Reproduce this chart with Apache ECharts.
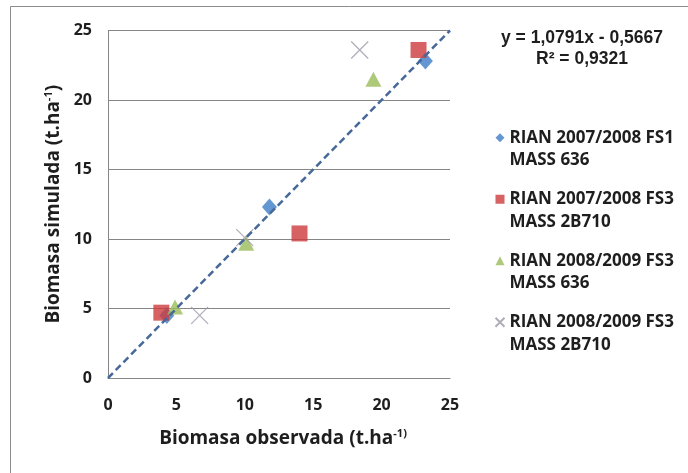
<!DOCTYPE html>
<html>
<head>
<meta charset="utf-8">
<script src="https://cdn.jsdelivr.net/npm/echarts@6/dist/echarts.min.js"></script>
<style>
html,body{margin:0;padding:0;background:#fff;}
#chart{width:688px;height:473px;}
</style>
</head>
<body>
<div id="chart"></div>
<script>
// ---- Data ----
const seriesNames = [
  'RIAN 2007/2008 FS1\nMASS 636',
  'RIAN 2007/2008 FS3\nMASS 2B710',
  'RIAN 2008/2009 FS3\nMASS 636',
  'RIAN 2008/2009 FS3\nMASS 2B710'
];
// [observed, simulated]
const fs1_2007_636   = [[4.3, 4.5], [11.8, 12.3], [23.2, 22.8]];
const fs3_2007_2B710 = [[3.9, 4.7], [14.0, 10.4], [22.7, 23.6]];
const fs3_2008_636   = [[4.9, 5.1], [10.1, 9.7], [19.4, 21.5]];
const fs3_2008_2B710 = [[6.7, 4.5], [10.0, 10.1], [18.4, 23.6]];
const oneToOneLine   = [[0, 0], [25, 25]];
const axisTicks = [0, 5, 10, 15, 20, 25];
const equationLines = ['y = 1,0791x - 0,5667', 'R² = 0,9321'];

const chart = echarts.init(document.getElementById('chart'), null, {renderer: 'canvas'});
const FONT = '"Open Sans"';
const TXT = '#1e1e1e';
const xPath = 'path://M0,0L10,10M10,0L0,10';

const option = {
  backgroundColor: '#ffffff',
  animation: false,
  graphic: [
    {type: 'rect', shape: {x: 10.5, y: 6.5, width: 720, height: 520}, style: {fill: 'none', stroke: '#8c8c8c', lineWidth: 1}, silent: true, z: -1},
    {type: 'text', x: 582, y: 28, style: {text: equationLines.join('\n'), font: 'bold 17.5px "Liberation Sans"', fill: TXT, align: 'center', verticalAlign: 'top', lineHeight: 21}}
  ],
  grid: {left: 108, right: 238, top: 30.5, bottom: 95, containLabel: false},
  xAxis: {
    type: 'value', min: axisTicks[0], max: axisTicks[axisTicks.length - 1], interval: 5,
    axisLine: {show: true, lineStyle: {color: '#868686', width: 1}},
    axisTick: {show: false},
    splitLine: {show: false},
    axisLabel: {margin: 19, color: TXT, fontFamily: FONT, fontWeight: 'bold', fontSize: 16},
    name: '{n|Biomasa observada (t.ha}{s|-1)}',
    nameLocation: 'middle', nameGap: 50,
    nameTextStyle: {
      padding: [0, 0, 0, 8],
      rich: {
        n: {fontFamily: FONT, fontWeight: 'bold', fontSize: 19, color: TXT, lineHeight: 22},
        s: {fontFamily: FONT, fontWeight: 'bold', fontSize: 11, color: TXT, verticalAlign: 'top', lineHeight: 22}
      }
    }
  },
  yAxis: {
    type: 'value', min: axisTicks[0], max: axisTicks[axisTicks.length - 1], interval: 5,
    axisLine: {show: true, lineStyle: {color: '#868686', width: 1}},
    axisTick: {show: false},
    splitLine: {show: true, lineStyle: {color: '#868686', width: 1}},
    axisLabel: {margin: 16, color: TXT, fontFamily: FONT, fontWeight: 'bold', fontSize: 16},
    name: '{n|Biomasa simulada (t.ha}{s|-1}{n|)}',
    nameLocation: 'middle', nameGap: 43, nameRotate: 90,
    nameTextStyle: {
      rich: {
        n: {fontFamily: FONT, fontWeight: 'bold', fontSize: 19, color: TXT, lineHeight: 22},
        s: {fontFamily: FONT, fontWeight: 'bold', fontSize: 11, color: TXT, verticalAlign: 'top', lineHeight: 22}
      }
    }
  },
  legend: {
    orient: 'vertical', left: 494.5, top: 104,
    itemWidth: 9, itemHeight: 9, itemGap: -6, padding: 0,
    data: seriesNames,
    formatter: function (name) { return '\n' + name; },
    textStyle: {fontFamily: FONT, fontWeight: 'bold', fontSize: 17, color: TXT, lineHeight: 22.5}
  },
  series: [
    {type: 'scatter', name: seriesNames[0], data: fs1_2007_636, symbol: 'diamond', symbolSize: [15, 17],
     itemStyle: {color: '#3d7cc6'}, z: 3},
    {type: 'scatter', name: seriesNames[1], data: fs3_2007_2B710, symbol: 'rect', symbolSize: 16,
     itemStyle: {color: '#cc3b3d'}, z: 3},
    {type: 'scatter', name: seriesNames[2], data: fs3_2008_636, symbol: 'triangle', symbolSize: [16, 15],
     itemStyle: {color: '#9bbb59'}, z: 4},
    {type: 'scatter', name: seriesNames[3], data: fs3_2008_2B710, symbol: xPath, symbolSize: 17,
     itemStyle: {color: 'rgba(0,0,0,0)', borderColor: '#9a98a6', borderWidth: 1.2}, z: 5},
    {type: 'line', name: '1:1', data: oneToOneLine, symbol: 'none', silent: true,
     lineStyle: {color: '#46699a', width: 2.5, type: [7, 4]}, z: 6}
  ]
};
chart.setOption(option);
</script>
</body>
</html>
